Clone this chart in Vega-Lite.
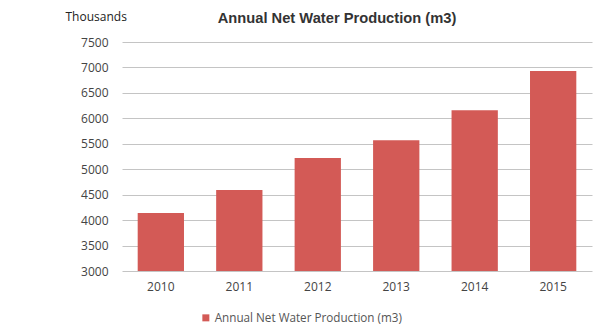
{
  "$schema": "https://vega.github.io/schema/vega-lite/v6.json",
  "width": 470,
  "height": 229,
  "autosize": {"type": "none"},
  "padding": {"left": 122, "top": 42, "right": 10, "bottom": 58},
  "background": "white",
  "title": {
    "text": "Annual Net Water Production (m3)",
    "font": "Liberation Sans",
    "fontSize": 14.7,
    "fontWeight": "bold",
    "color": "#333333",
    "anchor": "middle",
    "frame": "group",
    "dx": -20,
    "offset": -16
  },
  "data": {
    "values": [
      {"year": "2010", "value": 4140, "series": "Annual Net Water Production (m3)"},
      {"year": "2011", "value": 4590, "series": "Annual Net Water Production (m3)"},
      {"year": "2012", "value": 5220, "series": "Annual Net Water Production (m3)"},
      {"year": "2013", "value": 5570, "series": "Annual Net Water Production (m3)"},
      {"year": "2014", "value": 6160, "series": "Annual Net Water Production (m3)"},
      {"year": "2015", "value": 6930, "series": "Annual Net Water Production (m3)"}
    ]
  },
  "mark": {"type": "bar", "clip": true},
  "encoding": {
    "x": {
      "field": "year",
      "type": "ordinal",
      "scale": {"paddingInner": 0.41, "paddingOuter": 0.2},
      "axis": {
        "title": null,
        "labelAngle": 0,
        "domain": false,
        "ticks": false,
        "labelPadding": 10,
        "labelFont": "Open Sans",
        "labelFontSize": 12,
        "labelColor": "#444444"
      }
    },
    "y": {
      "field": "value",
      "type": "quantitative",
      "scale": {"domain": [3000, 7500], "nice": false, "zero": false},
      "axis": {
        "values": [3000, 3500, 4000, 4500, 5000, 5500, 6000, 6500, 7000, 7500],
        "format": "d",
        "title": "Thousands",
        "titleAngle": 0,
        "titleAlign": "left",
        "titleBaseline": "alphabetic",
        "titleX": -57,
        "titleY": -22,
        "titleFont": "Open Sans",
        "titleFontSize": 12,
        "titleFontWeight": "normal",
        "titleColor": "#222222",
        "domain": false,
        "ticks": false,
        "labelPadding": 14,
        "labelFont": "Open Sans",
        "labelFontSize": 12,
        "labelColor": "#444444",
        "gridColor": "#c4c4c4",
        "gridWidth": 1
      }
    },
    "color": {
      "field": "series",
      "type": "nominal",
      "scale": {"range": ["#d35a56"]},
      "legend": {
        "title": null,
        "orient": "none",
        "legendX": 78,
        "legendY": 270,
        "symbolType": "square",
        "symbolSize": 49,
        "labelFont": "Open Sans",
        "labelFontSize": 11.7,
        "labelColor": "#555555",
        "labelOffset": 3,
        "labelLimit": 400
      }
    }
  },
  "config": {"view": {"stroke": null}}
}
